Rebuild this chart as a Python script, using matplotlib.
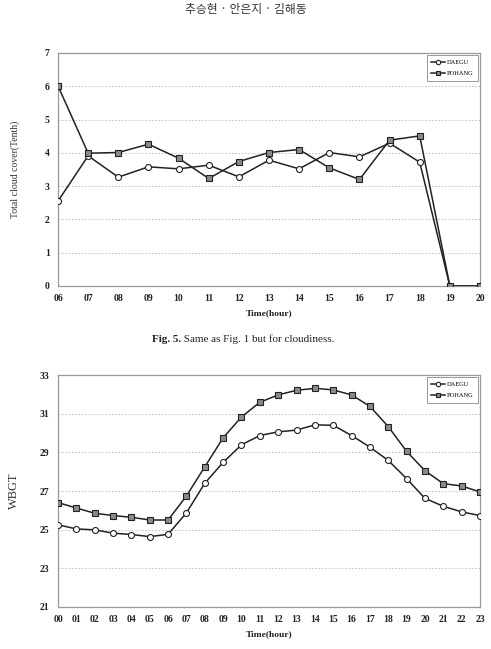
import matplotlib
matplotlib.use("Agg")
import matplotlib.pyplot as plt

# Fig. 5 - cloudiness
cloud_hours = ["06", "07", "08", "09", "10", "11", "12", "13", "14", "15", "16", "17", "18", "19", "20"]
cloud_daegu = [2.55, 3.91, 3.27, 3.58, 3.52, 3.63, 3.28, 3.78, 3.52, 4.01, 3.88, 4.29, 3.72, 0.0, 0.0]
cloud_pohang = [6.01, 3.99, 4.01, 4.26, 3.84, 3.23, 3.74, 4.01, 4.10, 3.55, 3.20, 4.38, 4.51, 0.0, 0.0]

# WBGT
wbgt_hours = ["%02d" % h for h in range(24)]
wbgt_daegu = [25.25, 25.04, 24.99, 24.82, 24.75, 24.64, 24.76, 25.87, 27.40, 28.48, 29.39, 29.87,
              30.06, 30.15, 30.42, 30.40, 29.87, 29.27, 28.58, 27.64, 26.62, 26.21, 25.92, 25.73]
wbgt_pohang = [26.40, 26.12, 25.85, 25.73, 25.64, 25.50, 25.50, 26.74, 28.25, 29.75, 30.83, 31.59,
               31.97, 32.21, 32.31, 32.23, 31.97, 31.38, 30.33, 29.05, 28.05, 27.38, 27.26, 26.95]

serif = "Liberation Serif"

fig = plt.figure(figsize=(4.91, 6.49), dpi=100)
fig.text(0.5, 1 - 10 / 649, "추승현 · 안은지 · 김해동", ha="center", va="center",
         fontsize=8.5, color="#333333", family=["Noto Sans CJK KR", "DejaVu Sans"])


def draw(ax, hours, daegu, pohang, ylim, yticks, ylabel, ylabel_size, ylabel_pad):
    x = range(len(hours))
    ax.plot(x, daegu, "-o", color="#222222", lw=1.1, ms=4.3, mfc="white", mec="#222222",
            mew=0.8, label="DAEGU", zorder=3)
    ax.plot(x, pohang, "-s", color="#222222", lw=1.1, ms=4.3, mfc="#8a8a8a", mec="#222222",
            mew=0.8, label="POHANG", zorder=3)
    ax.set_xlim(0, len(hours) - 1)
    ax.set_ylim(*ylim)
    ax.set_xticks(list(x))
    ax.set_xticklabels(hours)
    ax.set_yticks(yticks)
    ax.set_yticklabels([str(t) for t in yticks])
    for lab in ax.get_xticklabels() + ax.get_yticklabels():
        lab.set_family(serif)
        lab.set_fontweight("bold")
        lab.set_fontsize(7)
        lab.set_color("#222222")
    ax.tick_params(length=0, pad=6)
    ax.yaxis.grid(True, ls=(0, (2, 2)), color="#bbbbbb", lw=0.6)
    ax.set_axisbelow(True)
    for s in ax.spines.values():
        s.set_color("#999999")
        s.set_linewidth(0.9)
    ax.set_xlabel("Time(hour)", family=serif, fontweight="bold", fontsize=6.8,
                  color="#222222", labelpad=4)
    ax.set_ylabel(ylabel, family=serif, fontsize=ylabel_size, color="#333333",
                  labelpad=ylabel_pad)
    leg = ax.legend(loc="upper right", handlelength=2.2, handletextpad=0.3,
                    borderpad=0.7, labelspacing=0.9, fancybox=False, framealpha=1,
                    edgecolor="#888888", prop={"family": serif, "size": 4.6},
                    borderaxespad=0.3)
    leg.get_frame().set_linewidth(0.6)
    for h in leg.legend_handles:
        h.set_markersize(3.2)


ax1 = fig.add_axes([58 / 491, 1 - 286 / 649, 422 / 491, 233 / 649])
draw(ax1, cloud_hours, cloud_daegu, cloud_pohang, (0, 7), list(range(8)),
     "Total cloud cover(Tenth)", 7, 18)

fig.text(181 / 491, 1 - 339 / 649, "Fig. 5.", ha="right", va="center", fontsize=8,
         family=serif, fontweight="bold", color="#222222")
fig.text(181 / 491, 1 - 339 / 649, " Same as Fig. 1 but for cloudiness.", ha="left", va="center",
         fontsize=8, family=serif, color="#222222")

ax2 = fig.add_axes([58 / 491, 1 - 607 / 649, 422 / 491, 232 / 649])
draw(ax2, wbgt_hours, wbgt_daegu, wbgt_pohang, (21, 33), list(range(21, 34, 2)),
     "WBGT", 9, 14)

fig.savefig("out.png", dpi=100)
